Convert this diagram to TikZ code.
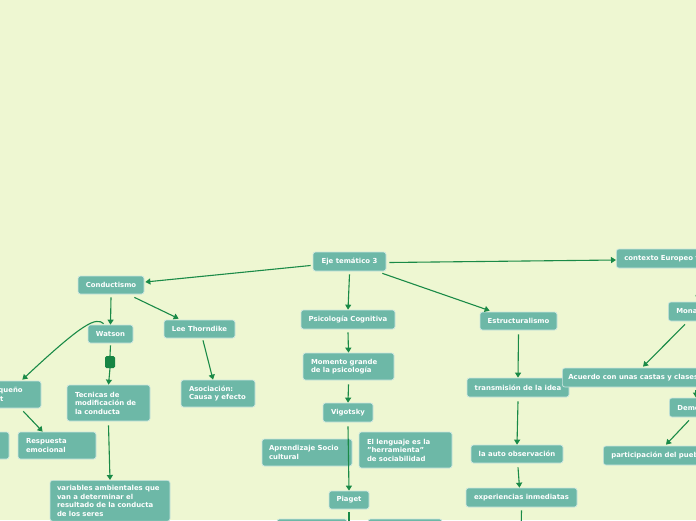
\documentclass[tikz,border=0pt]{standalone}
\usepackage{fontspec}
\setmainfont{DejaVu Sans}
\usetikzlibrary{arrows.meta,calc}
\definecolor{bg}{HTML}{EEF7D2}
\definecolor{nodefill}{HTML}{6DB8A7}
\definecolor{edge}{HTML}{1A8A47}
\definecolor{mkcol}{HTML}{168543}
\tikzset{
 box/.style={draw=white!65!nodefill, line width=0.7pt, fill=nodefill, rounded corners=2.5pt, text=white, font=\fontsize{6.9}{8.5}\selectfont\bfseries, inner sep=0pt, align=center},
 lbox/.style={box, align=left},
 conn/.style={draw=edge, line width=1.1pt, -{Triangle[length=5pt,width=6pt]}},
 plainconn/.style={draw=edge, line width=1.1pt},
 marker/.style={fill=mkcol, rounded corners=1.5pt, minimum width=10pt, minimum height=12pt, inner sep=0pt},
}
\begin{document}
\begin{tikzpicture}[x=1pt,y=-1pt]
\useasboundingbox (0,0) rectangle (696,520);
\fill[bg] (0,0) rectangle (696,520);
\clip (0,0) rectangle (696,520);

\node[box, minimum width=73pt, minimum height=19pt] (eje) at (349.5,261.5) {Eje temático 3};
\node[box, minimum width=66pt, minimum height=18pt] (cond) at (111,285) {Conductismo};
\node[box, minimum width=45pt, minimum height=18pt] (watson) at (110.5,334) {Watson};
\node[box, minimum width=71pt, minimum height=18pt] (lee) at (199.5,329) {Lee Thorndike};
\node[lbox, minimum width=69.5pt, text width=53.5pt, minimum height=27pt] (albert) at (6.25,394.5) {El pequeño\\Albert};
\node[box, minimum width=79pt, minimum height=27pt] (lft) at (-30.5,445.5) {};
\node[lbox, minimum width=78pt, text width=62pt, minimum height=27pt] (resp) at (57,445.5) {Respuesta\\emocional};
\node[lbox, minimum width=83pt, text width=67pt, minimum height=36pt] (tec) at (108.5,403) {Tecnicas de\\modificación de\\la conducta};
\node[lbox, anchor=north, minimum width=120pt, text width=106pt, inner ysep=5pt] (vars) at (110,480) {variables ambientales que\\van a determinar el\\resultado de la conducta\\de los seres};
\node[lbox, minimum width=74pt, text width=58pt, minimum height=27pt] (asoc) at (218,393.5) {Asociación:\\Causa y efecto};
\node[box, minimum width=94pt, minimum height=19pt] (psic) at (348,319.5) {Psicología Cognitiva};
\node[lbox, minimum width=91pt, text width=75pt, minimum height=27pt] (mom) at (348.5,366.5) {Momento grande\\de la psicología};
\node[box, minimum width=50pt, minimum height=19pt] (vig) at (348,412.5) {Vigotsky};
\node[lbox, minimum width=90pt, text width=76pt, minimum height=27pt] (apr) at (307,452.5) {Aprendizaje Socio\\cultural};
\node[lbox, minimum width=93pt, text width=77pt, minimum height=36pt] (leng) at (405.5,450) {El lenguaje es la\\"herramienta"\\de sociabilidad};
\node[box, minimum width=40pt, minimum height=18pt] (piaget) at (349,500) {Piaget};
\node[box, minimum width=70pt, minimum height=22pt] (pl) at (312,530) {};
\node[box, minimum width=74pt, minimum height=22pt] (pr) at (405,530) {};
\node[box, minimum width=77pt, minimum height=18pt] (estr) at (518.5,321) {Estructuralismo};
\node[box, minimum width=102pt, minimum height=19pt] (trans) at (518,387.5) {transmisión de la idea};
\node[box, minimum width=92pt, minimum height=18pt] (auto) at (517,454) {la auto observación};
\node[box, minimum width=111pt, minimum height=19pt] (exp) at (521.5,497.5) {experiencias inmediatas};
\node[box, anchor=west, inner xsep=8pt, minimum height=19pt] (ctx) at (616,258.5) {contexto Europeo feudal};
\node[box, anchor=west, inner xsep=8pt, minimum height=19pt] (mon) at (668,311.5) {Monarquía};
\node[box, anchor=west, inner xsep=6pt, minimum height=19pt] (acu) at (562,377.5) {Acuerdo con unas castas y clases};
\node[box, anchor=west, inner xsep=8pt, minimum height=19pt] (demo) at (669,407.5) {Democracia};
\node[box, anchor=west, inner xsep=8pt, minimum height=19pt] (part) at (603,455.5) {participación del pueblo};

\node[marker] (mark) at (110,362) {};
\coordinate (pb) at (349,535);
\coordinate (eb) at (521,535);

% connectors
\draw[conn] ($(eje.west)+(-2,4)$) -- ($(cond.east)+(1,-3)$);
\draw[conn] ($(eje.east)+(3,1)$) -- ($(ctx.west)+(0,1.5)$);
\draw[conn] ($(eje.south)+(0,3)$) -- (psic.north);
\draw[conn] ($(eje.south east)+(-4,2)$) -- ($(estr.north west)+(10,-1)$);
\draw[conn] ($(cond.south)+(0,3)$) -- (watson.north);
\draw[conn] ($(cond.south east)+(-10,3)$) -- ($(lee.north west)+(15,-1)$);
\draw[conn] ($(watson.north west)+(16,-1)$) .. controls (96,317) and (84,322) .. ($(albert.north east)+(-19,-1)$);
\draw[plainconn] ($(watson.south)+(0,2)$) -- (mark.north);
\draw[conn] (mark.south) -- (tec.north);
\draw[conn] ($(lee.south)+(3.5,2)$) -- ($(asoc.north)+(-5,0)$);
\draw[conn] ($(albert.south east)+(-18,3)$) -- ($(resp.north west)+(25,0)$);
\draw[conn] ($(tec.south)+(0,4)$) -- (vars.north);
\draw[conn] ($(psic.south)+(0,3)$) -- (mom.north);
\draw[conn] ($(mom.south)+(0,4)$) -- (vig.north);
\draw[conn] ($(vig.south)+(0,4)$) -- (piaget.north);
\draw[plainconn] ($(piaget.south)+(0,3)$) -- (pb);
\draw[conn] ($(estr.south)+(0,4)$) -- (trans.north);
\draw[conn] ($(trans.south)+(0,4)$) -- (auto.north);
\draw[conn] ($(auto.south)+(1,4)$) -- ($(exp.north)+(-2,0)$);
\draw[plainconn] ($(exp.south)+(0,3)$) -- (eb);
\draw[conn] ($(ctx.south west)+(90,3)$) -- ($(mon.north west)+(29,-1)$);
\draw[conn] ($(mon.south west)+(17,3)$) -- ($(acu.north west)+(81,-1)$);
\draw[conn] ($(acu.south west)+(134,3)$) -- ($(demo.north west)+(27,0)$);
\draw[conn] ($(demo.south west)+(20,3)$) -- ($(part.north west)+(63,-1)$);
\end{tikzpicture}
\end{document}
